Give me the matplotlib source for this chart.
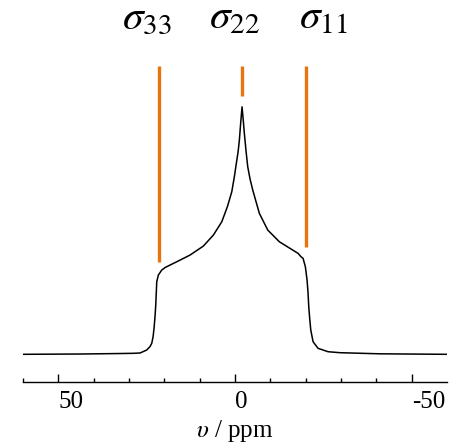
import matplotlib
matplotlib.use("Agg")
import matplotlib.pyplot as plt
from matplotlib.ticker import MultipleLocator

plt.rcParams.update({
    "font.family": ["Liberation Serif", "DejaVu Serif"],
    "mathtext.fontset": "stix",
})

# spectrum (ppm, normalised intensity)
ppm = [60.09, 43.87, 32.55, 28.87, 26.89, 24.99, 24.06, 23.58, 23.21, 22.93,
       22.64, 22.45, 22.30, 22.16, 21.71, 20.75, 19.81, 18.40, 16.50, 12.74,
       8.97, 6.14, 3.76, 2.18, 0.93, 0.20, -0.37, -0.85, -1.22, -1.61,
       -1.98, -2.32, -2.63, -3.11, -3.59, -4.25, -5.01, -6.88, -9.26, -12.54,
       -16.33, -17.83, -18.68, -19.25, -19.90, -20.38, -20.66, -20.86, -21.14, -21.43,
       -22.08, -23.49, -26.32, -29.72, -41.04, -59.92]
inten = [0.0000, 0.0012, 0.0032, 0.0040, 0.0053, 0.0174, 0.0315, 0.0444, 0.0699, 0.1050,
         0.1547, 0.1991, 0.2476, 0.2932, 0.3203, 0.3405, 0.3506, 0.3607, 0.3740, 0.4011,
         0.4374, 0.4818, 0.5355, 0.5961, 0.6567, 0.7173, 0.7726, 0.8170, 0.8655, 0.9382,
         1.0000, 0.9463, 0.8926, 0.8211, 0.7577, 0.7080, 0.6636, 0.5695, 0.5020, 0.4548,
         0.4212, 0.4079, 0.3942, 0.3877, 0.3538, 0.3001, 0.2476, 0.1922, 0.1426, 0.0981,
         0.0509, 0.0242, 0.0105, 0.0065, 0.0020, 0.0000]

# principal components of the shielding tensor
sigma_names = [r"$\sigma_{33}$", r"$\sigma_{22}$", r"$\sigma_{11}$"]
sigma_ppm = [21.4, -1.9, -20.1]
sigma_bottom = [0.373, 1.043, 0.435]
label_ppm = [25, 0, -25]

fig = plt.figure(figsize=(4.56, 4.44), dpi=100)
ax = fig.add_axes([0.0498, 0.1403, 0.9298, 0.8367])

ax.plot(ppm, inten, color="black", lw=1.1, solid_joinstyle="round")
ax.vlines(sigma_ppm, sigma_bottom, 1.164, color="#E8740F", lw=2.4)
for name, x in zip(sigma_names, label_ppm):
    ax.text(x, 1.317, name, ha="center", va="baseline", fontsize=30)

ax.set_xlim(60.1, -59.9)
ax.set_ylim(-0.1107, 1.3905)
for s in ["left", "right", "top"]:
    ax.spines[s].set_visible(False)
ax.spines["bottom"].set_linewidth(1.0)
ax.set_yticks([])
ax.xaxis.set_major_locator(MultipleLocator(50))
ax.xaxis.set_minor_locator(MultipleLocator(10))
ax.tick_params(axis="x", which="major", direction="in", length=6, width=1.0,
               labelsize=18, pad=7)
ax.tick_params(axis="x", which="minor", direction="in", length=3, width=1.0)
ax.set_xticks([50, 0, -50])
ax.set_xticklabels(["50", "0", "-50"])
for lab in ax.get_xticklabels():
    lab.set_horizontalalignment("left")
ax.set_xlabel(r"$\upsilon$ / ppm", fontsize=18, labelpad=3)

fig.savefig("out.png", dpi=100)
